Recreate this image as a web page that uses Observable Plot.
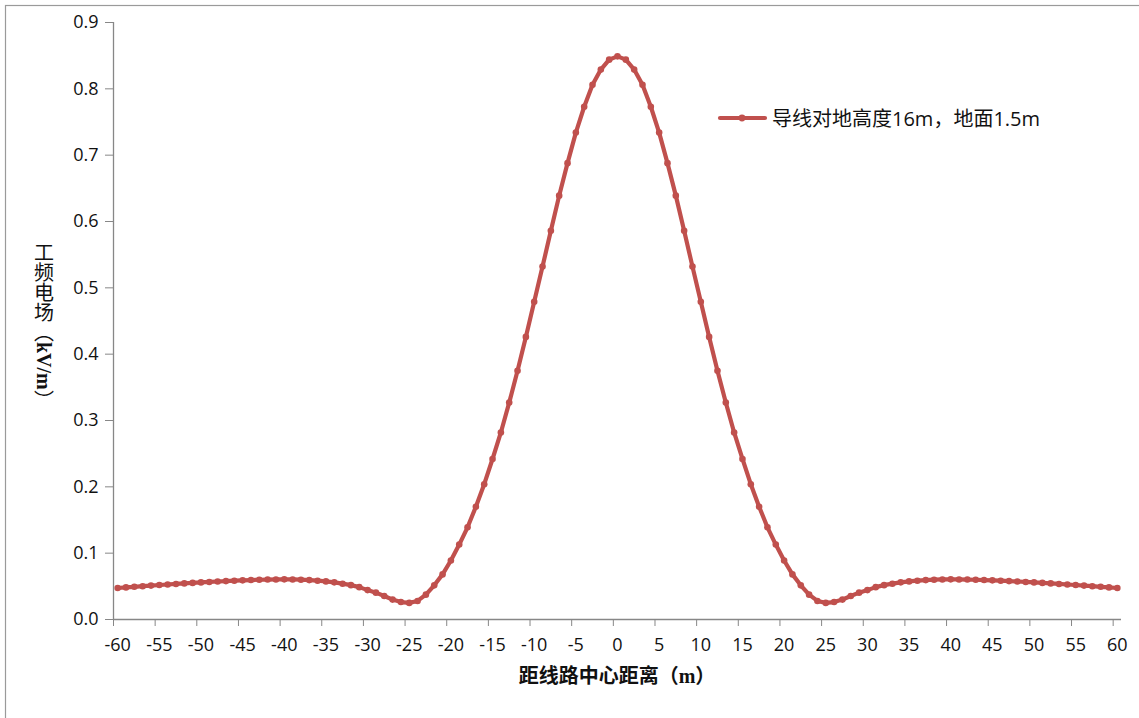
<!DOCTYPE html>
<html>
<head>
<meta charset="utf-8">
<script src="https://cdn.jsdelivr.net/npm/d3@7"></script>
<script src="https://cdn.jsdelivr.net/npm/@observablehq/plot@0.6"></script>
<style>
  html, body { margin: 0; padding: 0; background: #fff; }
  #chart { width: 1139px; height: 718px; overflow: hidden; }
</style>
</head>
<body>
<div id="chart"></div>
<script>
// Distance from the line centre (m)
const distances = [
  -60, -59, -58, -57, -56, -55, -54, -53, -52, -51,
  -50, -49, -48, -47, -46, -45, -44, -43, -42, -41,
  -40, -39, -38, -37, -36, -35, -34, -33, -32, -31,
  -30, -29, -28, -27, -26, -25, -24, -23, -22, -21,
  -20, -19, -18, -17, -16, -15, -14, -13, -12, -11,
  -10, -9, -8, -7, -6, -5, -4, -3, -2, -1,
  0,
  1, 2, 3, 4, 5, 6, 7, 8, 9, 10,
  11, 12, 13, 14, 15, 16, 17, 18, 19, 20,
  21, 22, 23, 24, 25, 26, 27, 28, 29, 30,
  31, 32, 33, 34, 35, 36, 37, 38, 39, 40,
  41, 42, 43, 44, 45, 46, 47, 48, 49, 50,
  51, 52, 53, 54, 55, 56, 57, 58, 59, 60
];

// Power-frequency electric field at 1.5 m above ground (kV/m), conductor height 16 m
const fieldStrength = [
  0.0475, 0.0484, 0.0493, 0.0502, 0.0511, 0.0520, 0.0528, 0.0536, 0.0544, 0.0552,
  0.0559, 0.0566, 0.0573, 0.0579, 0.0585, 0.0590, 0.0595, 0.0599, 0.0602, 0.0604,
  0.0605, 0.0604, 0.0600, 0.0594, 0.0585, 0.0574, 0.0560, 0.0540, 0.0518, 0.0488,
  0.0443, 0.0405, 0.0355, 0.0300, 0.0263, 0.0250, 0.0280, 0.0375, 0.0515, 0.0680,
  0.0890, 0.1130, 0.1390, 0.1700, 0.2040, 0.2420, 0.2820, 0.3270, 0.3750, 0.4260,
  0.4790, 0.5320, 0.5860, 0.6390, 0.6880, 0.7340, 0.7730, 0.8060, 0.8290, 0.8440,
  0.8490,
  0.8440, 0.8290, 0.8060, 0.7730, 0.7340, 0.6880, 0.6390, 0.5860, 0.5320, 0.4790,
  0.4260, 0.3750, 0.3270, 0.2820, 0.2420, 0.2040, 0.1700, 0.1390, 0.1130, 0.0890,
  0.0680, 0.0515, 0.0375, 0.0280, 0.0250, 0.0263, 0.0300, 0.0355, 0.0405, 0.0443,
  0.0488, 0.0518, 0.0540, 0.0560, 0.0574, 0.0585, 0.0594, 0.0600, 0.0604, 0.0605,
  0.0604, 0.0602, 0.0599, 0.0595, 0.0590, 0.0585, 0.0579, 0.0573, 0.0566, 0.0559,
  0.0552, 0.0544, 0.0536, 0.0528, 0.0520, 0.0511, 0.0502, 0.0493, 0.0484, 0.0475
];

// Axis ticks
const xTickLabels = [-60, -55, -50, -45, -40, -35, -30, -25, -20, -15, -10, -5, 0, 5, 10, 15, 20, 25, 30, 35, 40, 45, 50, 55, 60];
const yTicks = [0, 0.1, 0.2, 0.3, 0.4, 0.5, 0.6, 0.7, 0.8, 0.9];

const seriesName = "导线对地高度16m，地面1.5m";
const xTitle = "距线路中心距离";
const xUnit = "m";
const yTitle = "工频电场";
const yUnit = "kV/m";

const data = distances.map((d, i) => ({distance: d, field: fieldStrength[i]}));

// Category-style axis: tick marks sit between categories, labels on them
const xBoundaries = xTickLabels.map(d => d - 0.5);
const xDomain = [distances[0] - 0.5, distances[distances.length - 1] + 0.5];

const lineColor = "#C0504D";
const axisColor = "#878787";
const textColor = "#111";

const chart = Plot.plot({
  width: 1139,
  height: 718,
  marginLeft: 113,
  marginRight: 18,
  marginTop: 22,
  marginBottom: 99,
  style: {fontFamily: "'Open Sans', 'Noto Sans', sans-serif", fontSize: "18px", background: "transparent", color: textColor},
  x: {domain: xDomain},
  y: {domain: [0, 0.9]},
  marks: [
    Plot.ruleY([0], {stroke: axisColor, strokeWidth: 1.3}),
    Plot.ruleX([xDomain[0]], {stroke: axisColor, strokeWidth: 1.3}),
    Plot.axisY({ticks: yTicks, tickSize: 8, tickPadding: 7, tickFormat: d => d.toFixed(1),
                stroke: axisColor, fill: textColor, fontSize: 18, label: null}),
    Plot.axisX({ticks: xBoundaries, tickSize: 7, tickFormat: () => "", stroke: axisColor, label: null}),
    Plot.axisX({ticks: xTickLabels, tickSize: 0, tickPadding: 19, tickFormat: d => String(d),
                fill: textColor, fontSize: 18, label: null}),
    Plot.line(data, {x: "distance", y: "field", stroke: lineColor, strokeWidth: 4.2, curve: "linear"}),
    Plot.dot(data, {x: "distance", y: "field", r: 3.3, fill: lineColor, stroke: "none"})
  ]
});

const svg = d3.select(chart);

// Chart frame
svg.insert("rect", ":first-child")
  .attr("x", 5.5).attr("y", 5.5)
  .attr("width", 1140).attr("height", 720)
  .attr("fill", "#fff").attr("stroke", "#9a9a9a").attr("stroke-width", 1.2);

// Legend
const legend = svg.append("g").attr("transform", "translate(720,118)");
legend.append("line").attr("x1", 0).attr("x2", 45).attr("y1", 0).attr("y2", 0)
  .attr("stroke", lineColor).attr("stroke-width", 4.2).attr("stroke-linecap", "round");
legend.append("circle").attr("cx", 22).attr("cy", 0).attr("r", 3.4).attr("fill", lineColor);
legend.append("text").attr("x", 52).attr("y", 0)
  .attr("text-anchor", "start")
  .attr("dominant-baseline", "central")
  .attr("font-family", "'Open Sans', 'Noto Sans CJK SC', sans-serif")
  .attr("font-size", 20).attr("fill", textColor)
  .text(seriesName);

// X axis title
const xt = svg.append("text")
  .attr("x", 617).attr("y", 683)
  .attr("text-anchor", "middle")
  .attr("font-family", "'Noto Sans CJK SC', sans-serif")
  .attr("font-size", 20).attr("font-weight", "bold").attr("fill", textColor);
xt.append("tspan").text(xTitle + "（");
xt.append("tspan").attr("font-family", "'Liberation Serif', serif").attr("font-weight", "bold").text(xUnit);
xt.append("tspan").text("）");

// Y axis title, set vertically
const yt = svg.append("text")
  .attr("x", 44).attr("y", 242)
  .attr("text-anchor", "start")
  .attr("writing-mode", "vertical-rl")
  .attr("font-family", "'Noto Sans CJK SC', sans-serif")
  .attr("font-size", 20).attr("fill", textColor);
yt.append("tspan").text(yTitle + "（");
yt.append("tspan").attr("font-family", "'Liberation Serif', serif").attr("font-weight", "bold").text(yUnit);
yt.append("tspan").text("）");

document.getElementById("chart").appendChild(chart);
</script>
</body>
</html>
